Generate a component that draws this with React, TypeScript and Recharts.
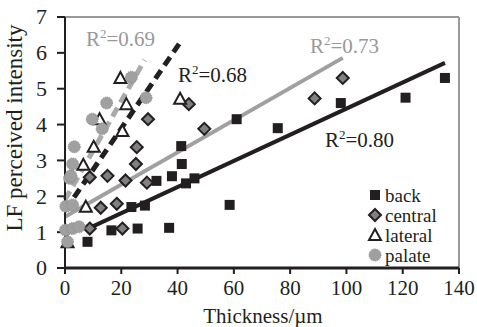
import React from "react";
import { ScatterChart, Scatter, XAxis, YAxis, ReferenceLine } from "recharts";

const FONT = '"Liberation Serif", "Times New Roman", serif';
const INK = "#231f20";
const GRAY = "#a0a0a0";

// measured points (thickness in µm, perceived intensity)
const back = [
  { x: 8, y: 0.73 }, { x: 16.5, y: 1.05 }, { x: 23.6, y: 1.7 },
  { x: 25.8, y: 1.1 }, { x: 28.4, y: 1.74 }, { x: 32.5, y: 2.43 },
  { x: 37, y: 1.12 }, { x: 38, y: 2.56 }, { x: 41.3, y: 3.4 },
  { x: 41.5, y: 2.9 }, { x: 43, y: 2.36 }, { x: 46, y: 2.5 },
  { x: 58.5, y: 1.76 }, { x: 61, y: 4.15 }, { x: 75.6, y: 3.9 },
  { x: 98, y: 4.6 }, { x: 121, y: 4.75 }, { x: 135, y: 5.3 },
];
const central = [
  { x: 8.8, y: 1.1 }, { x: 8.8, y: 2.53 }, { x: 12.7, y: 1.68 },
  { x: 15.1, y: 2.57 }, { x: 18.4, y: 1.79 }, { x: 20.4, y: 1.1 },
  { x: 21.5, y: 2.44 }, { x: 25.2, y: 2.9 }, { x: 25.5, y: 3.37 },
  { x: 29.1, y: 2.38 }, { x: 29.5, y: 4.15 }, { x: 44, y: 4.57 },
  { x: 49.5, y: 3.88 }, { x: 88.7, y: 4.73 }, { x: 98.7, y: 5.3 },
];
const lateral = [
  { x: 0.9, y: 0.72 }, { x: 7.4, y: 1.71 }, { x: 6.5, y: 2.88 },
  { x: 10.2, y: 3.38 }, { x: 12.3, y: 4.15 }, { x: 20.4, y: 3.82 },
  { x: 21.8, y: 4.57 }, { x: 19.7, y: 5.3 }, { x: 40.9, y: 4.72 },
];
const palate = [
  { x: 0.9, y: 0.73 }, { x: 0.2, y: 1.06 }, { x: 2.7, y: 1.1 },
  { x: 5, y: 1.15 }, { x: 0.3, y: 1.72 }, { x: 2.7, y: 1.76 },
  { x: 1.6, y: 2.5 }, { x: 2.1, y: 2.57 }, { x: 2.7, y: 2.9 },
  { x: 3.3, y: 3.38 }, { x: 9.7, y: 4.15 }, { x: 13.2, y: 3.88 },
  { x: 14.8, y: 4.6 }, { x: 23.6, y: 5.32 }, { x: 28.8, y: 4.75 },
];

// trend line end points
const backFit = [{ x: 8, y: 1.09 }, { x: 135, y: 5.72 }];
const centralFit = [{ x: 0, y: 1.43 }, { x: 98.7, y: 5.86 }];
const lateralFit = [{ x: 0, y: 1.6 }, { x: 41, y: 6.3 }];
const palateFit = [{ x: 0, y: 1.9 }, { x: 28.3, y: 5.8 }];

const xTicks = [0, 20, 40, 60, 80, 100, 120, 140];
const yTicks = [0, 1, 2, 3, 4, 5, 6, 7];
const seriesNames = ["back", "central", "lateral", "palate"];

const Square = ({ cx, cy }: any) => (
  <rect x={cx - 5} y={cy - 5} width={10} height={10} fill={INK} />
);
const Diamond = ({ cx, cy }: any) => (
  <path
    d={`M${cx},${cy - 6}L${cx + 6},${cy}L${cx},${cy + 6}L${cx - 6},${cy}Z`}
    fill="#808080"
    stroke={INK}
    strokeWidth={2}
  />
);
const Triangle = ({ cx, cy }: any) => (
  <path
    d={`M${cx},${cy - 6}L${cx + 6},${cy + 5}L${cx - 6},${cy + 5}Z`}
    fill="#fff"
    stroke={INK}
    strokeWidth={2}
  />
);
const Dot = ({ cx, cy }: any) => (
  <circle cx={cx} cy={cy} r={6} fill={GRAY} stroke="#888" strokeWidth={1} strokeDasharray="1 1" />
);

const markers: Record<string, (p: any) => React.ReactElement> = {
  back: Square,
  central: Diamond,
  lateral: Triangle,
  palate: Dot,
};

const XTick = ({ x, y, payload }: any) => (
  <text x={x} y={y} dy="0.71em" textAnchor="middle" fontSize={21} fontFamily={FONT} fill={INK}>
    {payload.value}
  </text>
);
const YTick = ({ x, y, payload }: any) => (
  <text x={x} y={y} dy="0.34em" textAnchor="end" fontSize={22} fontFamily={FONT} fill={INK}>
    {payload.value}
  </text>
);

function R2({ x, y, value, color }: { x: number; y: number; value: string; color: string }) {
  return (
    <text x={x} y={y} fontSize={21} fontFamily={FONT} fill={color}>
      R<tspan fontSize={13} dy={-8}>2</tspan>
      <tspan dy={8}>={value}</tspan>
    </text>
  );
}

export default function App() {
  return (
    <div style={{ position: "absolute", left: 0, top: 0, width: 477, height: 327, background: "#fff" }}>
      <ScatterChart
        width={477}
        height={327}
        margin={{ top: 17, right: 18, bottom: 0, left: 0 }}
      >
        <XAxis
          type="number"
          dataKey="x"
          domain={[0, 140]}
          ticks={xTicks}
          interval={0}
          height={59}
          tickSize={6}
          tickMargin={6}
          axisLine={{ stroke: INK, strokeWidth: 3 }}
          tickLine={{ stroke: INK, strokeWidth: 2 }}
          tick={XTick}
        />
        <YAxis
          type="number"
          dataKey="y"
          domain={[0, 7]}
          ticks={yTicks}
          interval={0}
          width={65}
          tickSize={8}
          tickMargin={10}
          axisLine={{ stroke: INK, strokeWidth: 2 }}
          tickLine={{ stroke: INK, strokeWidth: 2 }}
          tick={YTick}
        />
        <ReferenceLine y={7} stroke="#999" strokeWidth={2} />
        <ReferenceLine x={140} stroke="#999" strokeWidth={2} />
        <Scatter name="back" data={back} shape={Square} isAnimationActive={false} />
        <Scatter name="central" data={central} shape={Diamond} isAnimationActive={false} />
        <Scatter name="lateral" data={lateral} shape={Triangle} isAnimationActive={false} />
        <Scatter name="palate" data={palate} shape={Dot} isAnimationActive={false} />
        <ReferenceLine segment={[centralFit[0], centralFit[1]]} stroke={GRAY} strokeWidth={4} />
        <ReferenceLine segment={[backFit[0], backFit[1]]} stroke={INK} strokeWidth={4} />
        <ReferenceLine
          segment={[palateFit[0], palateFit[1]]}
          stroke="#aaa"
          strokeWidth={5}
          strokeDasharray="10 6"
        />
        <ReferenceLine
          segment={[lateralFit[0], lateralFit[1]]}
          stroke={INK}
          strokeWidth={5}
          strokeDasharray="10 6"
        />
      </ScatterChart>
      <svg
        width={477}
        height={327}
        style={{ position: "absolute", left: 0, top: 0, pointerEvents: "none" }}
      >
        {seriesNames.map((name, i) => {
          const M = markers[name];
          const cy = 195 + i * 20;
          return (
            <g key={name}>
              <M cx={375} cy={cy} />
              <text x={385} y={cy + 7} fontSize={19} fontFamily={FONT} fill={INK}>
                {name}
              </text>
            </g>
          );
        })}
        <R2 x={86} y={46} value="0.69" color="#999" />
        <R2 x={178} y={82} value="0.68" color={INK} />
        <R2 x={310} y={53} value="0.73" color="#999" />
        <R2 x={325} y={147} value="0.80" color={INK} />
        <text x={263} y={323} textAnchor="middle" fontSize={21} fontFamily={FONT} fill={INK}>
          Thickness/µm
        </text>
        <text
          transform="translate(22,128) rotate(-90)"
          textAnchor="middle"
          fontSize={23}
          fontFamily={FONT}
          fill={INK}
        >
          LF perceived intensity
        </text>
      </svg>
    </div>
  );
}
